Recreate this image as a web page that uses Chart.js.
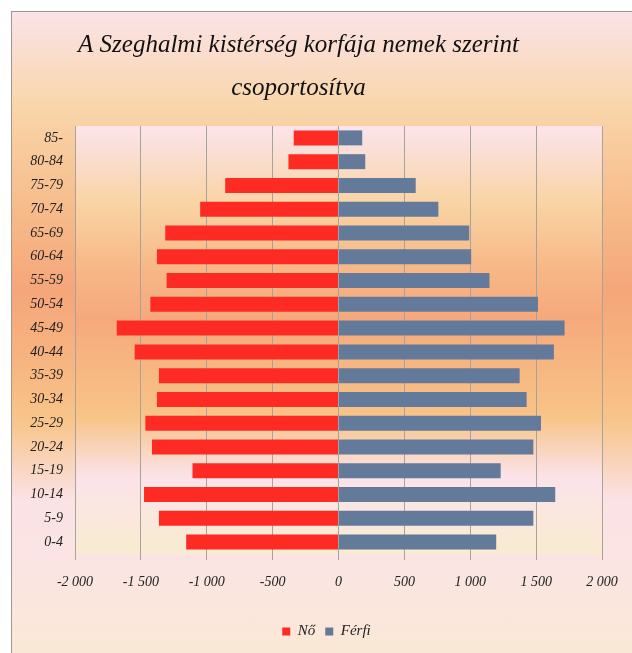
<!DOCTYPE html>
<html>
<head>
<meta charset="utf-8">
<script src="https://cdn.jsdelivr.net/npm/chart.js@4"></script>
<style>
  html, body { margin: 0; padding: 0; background: #fff; }
  #frame {
    position: absolute; left: 11px; top: 11px; width: 640px; height: 660px;
    border-left: 1px solid #9c9896; border-top: 1px solid #9c9896;
    background: linear-gradient(to bottom, #fbe3e8 0%, #f9d6ab 14%, #f7bb8a 30%, #f5a67a 42%, #f7b37f 52%, #f8c58a 62%, #fbe2e6 74%, #fbe5e2 85%, #fae9d3 100%);
  }
  #wrap { position: absolute; left: 0; top: 0; width: 632px; height: 653px; }
</style>
</head>
<body>
<div id="frame"></div>
<div id="wrap"><canvas id="korfa"></canvas></div>
<script>
// Age groups, bottom to top
const ageGroups = ['0-4', '5-9', '10-14', '15-19', '20-24', '25-29', '30-34', '35-39', '40-44',
                   '45-49', '50-54', '55-59', '60-64', '65-69', '70-74', '75-79', '80-84', '85-'];
// Women shown on the left (negative values)
const noValues = [-1156, -1363, -1476, -1108, -1416, -1466, -1378, -1363, -1547,
                  -1683, -1428, -1305, -1378, -1315, -1050, -860, -380, -340];
// Men shown on the right
const ferfiValues = [1197, 1479, 1645, 1231, 1479, 1537, 1428, 1375, 1635,
                     1716, 1514, 1146, 1007, 992, 758, 586, 203, 180];
const xTicks = [-2000, -1500, -1000, -500, 0, 500, 1000, 1500, 2000];

function formatTick(v) {
    const abs = String(Math.abs(v)).replace(/\B(?=(\d{3})+$)/g, ' ');
    return (v < 0 ? '-' : '') + abs;
}

// plot area gets its own gradient
const plotBackground = {
    id: 'plotBackground',
    afterLayout(chart) {
        // title sits a bit left of centre, legend a bit right, like the original
        chart.titleBlock.left -= 8;
        chart.titleBlock.right -= 8;
        chart.legend.left += 20;
        chart.legend.right += 20;
    },
    beforeDraw(chart) {
        const { ctx, chartArea: a } = chart;
        const g = ctx.createLinearGradient(0, a.top, 0, a.bottom);
        g.addColorStop(0, '#fbe4ec');
        g.addColorStop(0.18, '#f9d4a4');
        g.addColorStop(0.34, '#f7b685');
        g.addColorStop(0.45, '#f6a97c');
        g.addColorStop(0.68, '#f8c487');
        g.addColorStop(0.82, '#fbe3ea');
        g.addColorStop(1, '#f9ecd0');
        ctx.save();
        ctx.fillStyle = g;
        ctx.fillRect(a.left, a.top, a.right - a.left, a.bottom - a.top);
        ctx.restore();
    }
};

const tickFont = { family: '"Liberation Serif", serif', style: 'italic', size: 14 };

new Chart(document.getElementById('korfa'), {
    type: 'bar',
    data: {
        labels: ageGroups,
        datasets: [
            { label: 'Nő', data: noValues, backgroundColor: '#fd2b24' },
            { label: 'Férfi', data: ferfiValues, backgroundColor: '#647a9b' }
        ]
    },
    options: {
        indexAxis: 'y',
        responsive: true,
        maintainAspectRatio: false,
        animation: false,
        layout: { padding: { left: 11, right: 30, top: 0, bottom: 4 } },
        datasets: { bar: { barPercentage: 0.63, categoryPercentage: 1.0 } },
        scales: {
            x: {
                stacked: true,
                min: -2000,
                max: 2000,
                afterBuildTicks: (axis) => { axis.ticks = xTicks.map(v => ({ value: v })); },
                afterFit: (axis) => { axis.height = 60; },
                grid: { color: '#a8a29c', lineWidth: 1, tickLength: 6 },
                border: { display: false },
                ticks: { color: '#222', font: tickFont, padding: 14, maxRotation: 0, callback: (v) => formatTick(v) }
            },
            y: {
                stacked: true,
                reverse: true,
                afterFit: (axis) => { axis.width = 64; },
                grid: { display: false, drawTicks: false },
                border: { display: true, color: '#a8a29c' },
                ticks: { color: '#222', font: tickFont, padding: 12 }
            }
        },
        plugins: {
            title: {
                display: true,
                text: ['A Szeghalmi kistérség korfája nemek szerint', 'csoportosítva'],
                color: '#111',
                font: { family: '"Liberation Serif", serif', style: 'italic', size: 25, weight: 'normal', lineHeight: 1.72 },
                padding: { top: 24, bottom: 16 }
            },
            legend: {
                position: 'bottom',
                labels: {
                    color: '#222',
                    font: { family: '"Liberation Serif", serif', style: 'italic', size: 15 },
                    boxWidth: 8,
                    boxHeight: 8,
                    padding: 10
                }
            },
            tooltip: { enabled: false }
        }
    },
    plugins: [plotBackground]
});
</script>
</body>
</html>
